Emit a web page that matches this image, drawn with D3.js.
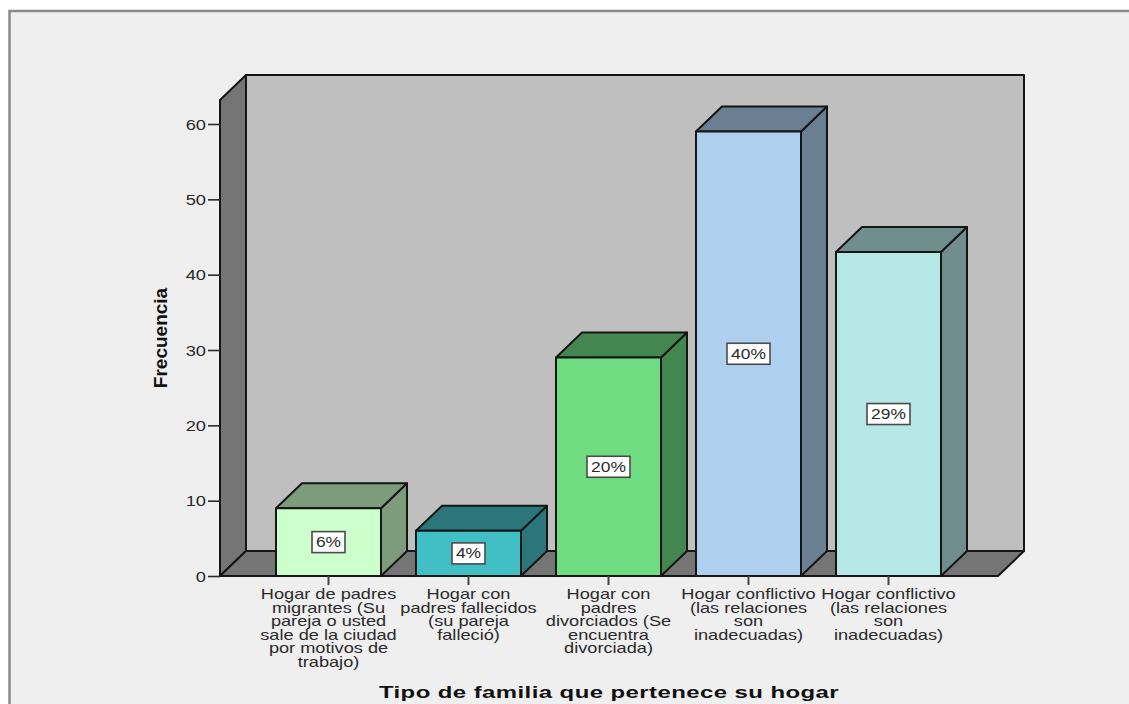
<!DOCTYPE html>
<html><head><meta charset="utf-8">
<script src="https://cdn.jsdelivr.net/npm/d3@7"></script>
<style>html,body{margin:0;padding:0;background:#fff}svg{display:block}</style>
</head><body><svg id="c" width="1129" height="704"></svg>
<script>
const categories = [
 ["Hogar de padres","migrantes (Su","pareja o usted","sale de la ciudad","por motivos de","trabajo)"],
 ["Hogar con","padres fallecidos","(su pareja","falleció)"],
 ["Hogar con","padres","divorciados (Se","encuentra","divorciada)"],
 ["Hogar conflictivo","(las relaciones","son","inadecuadas)"],
 ["Hogar conflictivo","(las relaciones","son","inadecuadas)"]
];
const values = [9,6,29,59,43];
const percents = ["6%","4%","20%","40%","29%"];
const frontColors = ["#ccffcc","#40bfc4","#70dc82","#aed0ee","#b6e7e7"];
const sideColors = ["#7c9c7c","#2a767a","#448650","#6a7f92","#708e8e"];
const yTicks = [0,10,20,30,40,50,60];
const yTitle = "Frecuencia", xTitle = "Tipo de familia que pertenece su hogar";

const svg = d3.select("#c");
const font = "'Liberation Sans',Arial,sans-serif", ink="#2a2a2a";
const dx = 26, dy = -25;
svg.append("rect").attr("x",9.5).attr("y",11).attr("width",1130).attr("height",710)
  .attr("fill","#efefef").attr("stroke","#8a8a8a").attr("stroke-width",2.5);

const y = d3.scaleLinear().domain([0,60]).range([576,124]);
const yTop = y.invert(100);
const x = d3.scaleBand().domain(d3.range(values.length)).range([276,941]).paddingInner(0.25).paddingOuter(0);
const xLeft = 220, xRight = 998;
const bw = x.bandwidth();
const bx = i => x(i);
const line = d3.line();
const poly=(pts,fill,stroke="#151515")=>svg.append("path").attr("d",line(pts)+"Z").attr("fill",fill)
  .attr("stroke",stroke).attr("stroke-width",2).attr("stroke-linejoin","round");
const stretched=(parent,px,py,txt,size,sx,anchor="middle")=>parent.append("text")
  .attr("transform",`translate(${px},${py}) scale(${sx},1)`).attr("text-anchor",anchor)
  .attr("font-family",font).attr("font-size",size).attr("fill",ink).text(txt);

// back wall, left wall, floor
poly([[xLeft+dx,y(0)+dy],[xRight+dx,y(0)+dy],[xRight+dx,y(yTop)+dy],[xLeft+dx,y(yTop)+dy]],"#bfbfbf");
poly([[xLeft,y(0)],[xLeft+dx,y(0)+dy],[xLeft+dx,y(yTop)+dy],[xLeft,y(yTop)]],"#757575");
poly([[xLeft,y(0)],[xRight,y(0)],[xRight+dx,y(0)+dy],[xLeft+dx,y(0)+dy]],"#757575");

// bars
values.forEach((v,i)=>{
  const l=bx(i), r=l+bw, t=y(v), b=y(0);
  poly([[r,b],[r+dx,b+dy],[r+dx,t+dy],[r,t]],sideColors[i]);
  poly([[l,t],[r,t],[r+dx,t+dy],[l+dx,t+dy]],sideColors[i]);
  poly([[l,b],[r,b],[r,t],[l,t]],frontColors[i]);
  const cy=(t+b)/2, cx=l+bw/2;
  const w=percents[i].length>2?43:33, h=21;
  svg.append("rect").attr("x",cx-w/2).attr("y",cy-h/2).attr("width",w).attr("height",h)
    .attr("fill","#fff").attr("stroke","#4a4a4a").attr("stroke-width",1.6);
  stretched(svg,cx,cy+5,percents[i],14.5,1.2);
});

// y axis
const yAxis = svg.append("g").attr("transform",`translate(${xLeft},0)`)
  .call(d3.axisLeft(y).tickValues(yTicks).tickSize(12).tickSizeOuter(0).tickPadding(0));
yAxis.select(".domain").remove();
yAxis.selectAll("line").attr("stroke",ink).attr("stroke-width",1.6);
yAxis.selectAll("text").remove();
yTicks.forEach(t=>stretched(svg,206,y(t)+5.5,String(t),15,1.22,"end"));

// x ticks and labels
categories.forEach((lines,i)=>{
  const cx=bx(i)+bw/2;
  svg.append("line").attr("x1",cx).attr("x2",cx).attr("y1",y(0)).attr("y2",y(0)+9).attr("stroke","#444").attr("stroke-width",2);
  lines.forEach((s,j)=>stretched(svg,cx,599+j*13.5,s,14,1.3));
});

svg.append("text").attr("transform","translate(167,338) rotate(-90)").attr("text-anchor","middle")
  .attr("font-family",font).attr("font-weight","bold").attr("font-size",19).attr("fill","#111").text(yTitle);
svg.append("text").attr("transform","translate(609,698) scale(1.41,1)").attr("text-anchor","middle")
  .attr("font-family",font).attr("font-weight","bold").attr("font-size",17).attr("letter-spacing",0.3).attr("fill","#111").text(xTitle);
</script></body></html>
